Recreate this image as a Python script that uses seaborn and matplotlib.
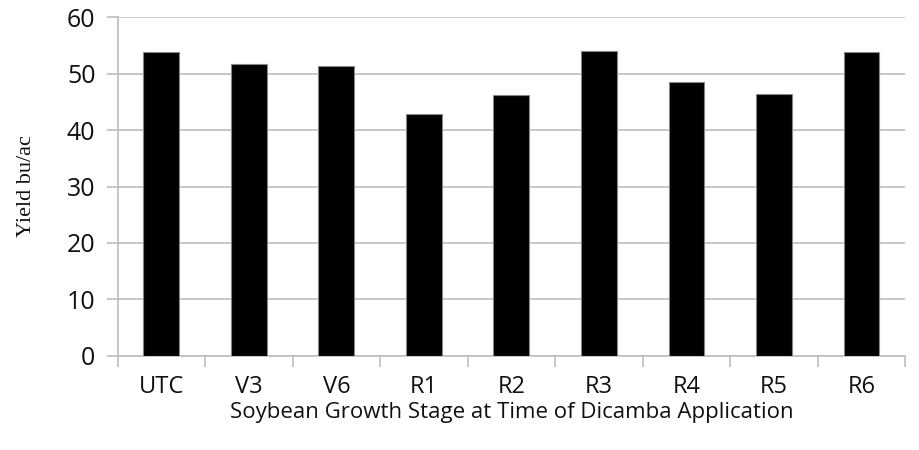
import matplotlib.pyplot as plt
import seaborn as sns
import pandas as pd
import numpy as np

# values
stages = ['UTC', 'V3', 'V6', 'R1', 'R2', 'R3', 'R4', 'R5', 'R6']
yield_bu = [53.8, 51.7, 51.4, 42.8, 46.2, 54.0, 48.5, 46.4, 53.8]
y_ticks = [0, 10, 20, 30, 40, 50, 60]

df = pd.DataFrame({'stage': stages, 'yield': yield_bu})

sns.set_theme(style="white")
plt.rcParams['font.family'] = ['Open Sans', 'DejaVu Sans']

fig = plt.figure(figsize=(9.19, 4.5), dpi=100)
ax = fig.add_axes([0.128, 0.209, 0.857, 0.753])

sns.barplot(data=df, x='stage', y='yield', color='black', width=0.41,
            edgecolor='#888888', linewidth=0.8, ax=ax, zorder=3)

ax.set_ylim(0, 60)
ax.set_yticks(y_ticks)
ax.set_xlim(-0.5, len(stages) - 0.5)
ax.yaxis.grid(True, color='#bdbdbd', linewidth=1.2, zorder=0)
ax.set_axisbelow(True)

for s in ['top', 'right']:
    ax.spines[s].set_visible(False)
for s in ['left', 'bottom']:
    ax.spines[s].set_color('#bdbdbd')
    ax.spines[s].set_linewidth(1.2)

# tick marks sit between the categories
ax.set_xticks(np.arange(-0.5, len(stages)), minor=True)
ax.tick_params(axis='x', which='minor', length=8, color='#bdbdbd', width=1.2, direction='out', bottom=True)
ax.tick_params(axis='x', which='major', length=0, pad=14, labelsize=17, labelcolor='#111111')
ax.tick_params(axis='y', which='major', length=8, color='#bdbdbd', width=1.2, direction='out', left=True,
               labelsize=18, labelcolor='#111111', pad=8)

ax.set_xlabel('Soybean Growth Stage at Time of Dicamba Application', fontsize=16, color='#111111', labelpad=2)
ax.set_ylabel('Yield bu/ac', fontsize=16, family=['Liberation Serif', 'DejaVu Serif'], color='#111111', labelpad=22)

fig.savefig('out.png', dpi=100)
